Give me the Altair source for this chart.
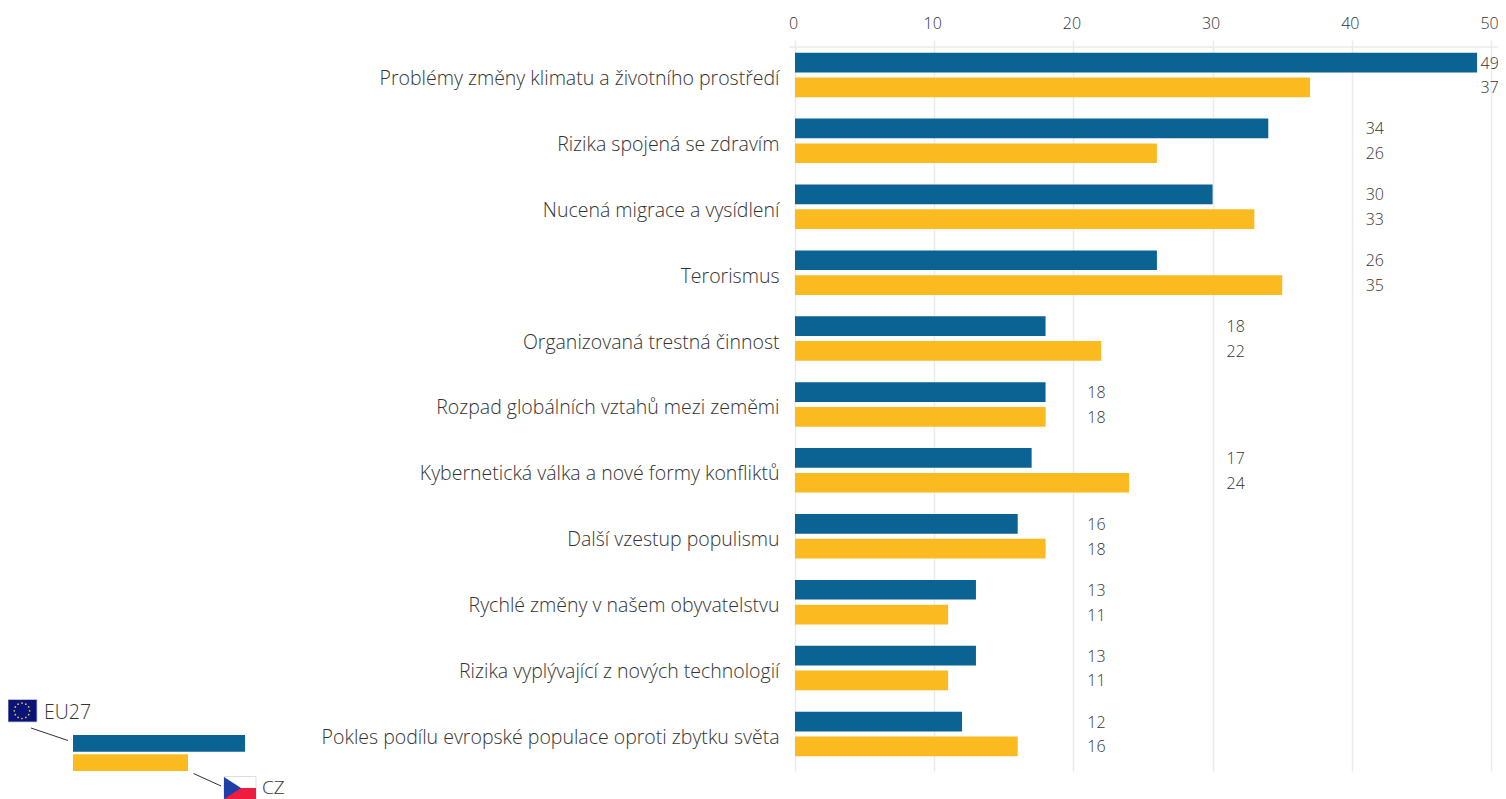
import math
import altair as alt
import pandas as pd

categories = [
    "Problémy změny klimatu a životního prostředí",
    "Rizika spojená se zdravím",
    "Nucená migrace a vysídlení",
    "Terorismus",
    "Organizovaná trestná činnost",
    "Rozpad globálních vztahů mezi zeměmi",
    "Kybernetická válka a nové formy konfliktů",
    "Další vzestup populismu",
    "Rychlé změny v našem obyvatelstvu",
    "Rizika vyplývající z nových technologií",
    "Pokles podílu evropské populace oproti zbytku světa",
]
eu27 = [49, 34, 30, 26, 18, 18, 17, 16, 13, 13, 12]
cz = [37, 26, 33, 35, 22, 18, 24, 18, 11, 11, 16]
tick_values = [0, 10, 20, 30, 40, 50]

BLUE = "#0B6394"
YELLOW = "#FBBA20"
TEXT = "#333333"
GRID = "#EBEBEB"
FONT = "Open Sans"
WEIGHT = 300
OX, OY = 795, 40  # page position of the plot origin
BAR_SHIFT = 12.4


def frame(values):
    rows = []
    for c, v, e, z in zip(categories, values, eu27, cz):
        # the group's labels share a column just past the next ten; kept inside the page
        pos = min(math.ceil(max(e, z) / 10) * 10 + 1, 49.25)
        rows.append({"cat": c, "value": v, "pos": pos})
    return pd.DataFrame(rows)


y_enc = alt.Y("cat:N", sort=categories, title=None,
              scale=alt.Scale(domain=categories, paddingInner=0, paddingOuter=0.0463, align=0.33),
              axis=alt.Axis(domain=False, ticks=False, grid=False, labelPadding=16,
                            labelLimit=600, labelOffset=4, labelFont=FONT, labelFontWeight=WEIGHT,
                            labelFontSize=19.5, labelColor=TEXT))
x_enc = alt.X("value:Q", title=None,
              scale=alt.Scale(domain=[0, 50], nice=False),
              axis=alt.Axis(orient="top", values=tick_values, domain=False, ticks=False,
                            grid=True, gridColor=GRID, gridWidth=1.5, labelPadding=9,
                            labelOffset=-2,
                            labelFont=FONT, labelFontWeight=WEIGHT, labelFontSize=16,
                            labelColor=TEXT, labelFlush=False))


def series_layers(values, color, shift):
    d = frame(values)
    bar = alt.Chart(d).mark_bar(size=19.7, color=color, yOffset=shift).encode(x=x_enc, y=y_enc)
    txt = alt.Chart(d).mark_text(align="left", baseline="middle", font=FONT, fontWeight=WEIGHT,
                                 fontSize=16, color=TEXT, yOffset=shift + 1).encode(
        x=alt.X("pos:Q"), y=y_enc, text="value:Q")
    return [bar, txt]


def deco(mark, x, y, x2=None, y2=None):
    enc = {"x": alt.value(x - OX), "y": alt.value(y - OY)}
    if x2 is not None:
        enc["x2"] = alt.value(x2 - OX)
    if y2 is not None:
        enc["y2"] = alt.value(y2 - OY)
    return alt.Chart(pd.DataFrame({"k": [0]}), mark=mark).encode(**enc)


R = alt.MarkDef
decos = [
    # header line
    deco(R(type="rule", color=GRID, strokeWidth=1.5), 789, 47, x2=1498, y2=47),
    # legend bars
    deco(R(type="rect", color=BLUE), 73, 735, x2=245, y2=751.7),
    deco(R(type="rect", color=YELLOW), 73, 754.3, x2=188, y2=771),
    # leader lines
    deco(R(type="rule", color=TEXT, strokeWidth=1), 31, 728, x2=68, y2=740.5),
    deco(R(type="rule", color=TEXT, strokeWidth=1), 193.5, 773.5, x2=221, y2=786),
    # EU flag
    deco(R(type="rect", color="#0A1478", stroke="#C9CBE0", strokeWidth=0.8), 8, 699.5, x2=37, y2=722),
    # CZ flag
    deco(R(type="rect", color="#FFFFFF", stroke="#D5D5D5", strokeWidth=0.8), 224, 776.5, x2=256, y2=799),
    deco(R(type="rect", color="#EE1C3E"), 224, 788, x2=256, y2=799),
    deco(R(type="point", shape="M -1 -1 L 0.55 0 L -1 1 Z", filled=True, color="#1F3FA8",
           opacity=1, size=484, strokeWidth=0), 235, 788),
    # legend texts
    deco(R(type="text", text="EU27", align="left", baseline="middle", font=FONT, fontWeight=WEIGHT,
           fontSize=19.5, color=TEXT), 44, 712.5),
    deco(R(type="text", text="CZ", align="left", baseline="middle", font=FONT, fontWeight=WEIGHT,
           fontSize=19, color=TEXT), 262, 787.5),
]
for i in range(12):
    a = 2 * math.pi * i / 12
    decos.append(deco(R(type="point", shape="circle", filled=True, color="#E6C63A",
                        opacity=1, size=3, strokeWidth=0),
                      22 + 7.7 * math.sin(a), 710.8 - 7.7 * math.cos(a)))

chart = alt.layer(
    *series_layers(eu27, BLUE, -BAR_SHIFT),
    *series_layers(cz, YELLOW, BAR_SHIFT),
    *decos,
).properties(
    width=696, height=731,
    padding={"left": 787, "top": 32, "right": 7, "bottom": 28},
    autosize=alt.AutoSizeParams(type="none"),
).configure_view(stroke=None)

chart.save("out.html", embed_options={"renderer": "svg", "actions": False})
